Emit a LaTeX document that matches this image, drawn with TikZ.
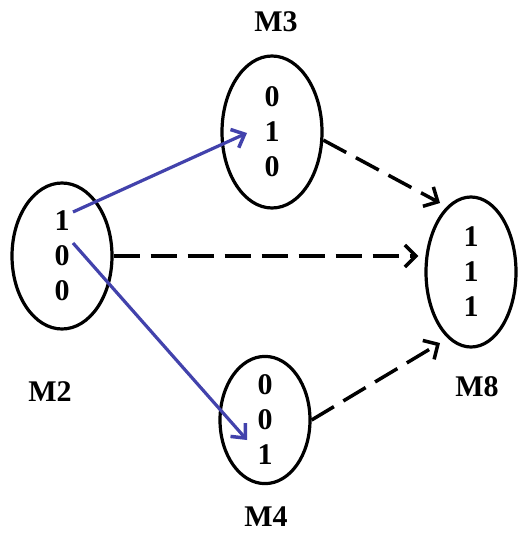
\documentclass[tikz,border=0pt]{standalone}
\usepackage{fontspec}
\setmainfont{Liberation Serif}
\usetikzlibrary{arrows.meta,shapes.geometric,calc}
\definecolor{arrowblue}{RGB}{66,66,172}
\begin{document}
\begin{tikzpicture}[x=1bp,y=-1bp,
  state/.style={draw=black,line width=3.2bp,ellipse,inner sep=0pt,align=center,
    font=\fontsize{30bp}{35bp}\selectfont\bfseries},
  lbl/.style={font=\fontsize{30bp}{35bp}\selectfont\bfseries,inner sep=0pt},
  bluearrow/.style={draw=arrowblue,line width=3.2bp,-{Straight Barb[length=11bp,width=20bp,line width=3.5bp]}},
  dasharrow/.style={draw=black,line width=3.5bp,dash pattern=on 26bp off 11bp,
    -{Straight Barb[length=11bp,width=22bp,line width=3.5bp]}}]
\useasboundingbox (0,0) rectangle (518,535);
\fill[white] (0,0) rectangle (518,535);
% states
\node[state,minimum width=100bp,minimum height=146bp] (M2) at (62,256) {1\\0\\0};
\node[state,minimum width=100bp,minimum height=152bp] (M3) at (272,132) {0\\1\\0};
\node[state,minimum width=90bp,minimum height=150bp] (M8) at (471,272) {1\\1\\1};
\node[state,minimum width=90bp,minimum height=126bp] (M4) at (265,420) {0\\0\\1};
% labels
\node[lbl] (L2) at (50,392) {M2};
\node[lbl] (L3) at (276,22) {M3};
\node[lbl] (L8) at (477,387) {M8};
\node[lbl] (L4) at (266,517) {M4};
% connector end points
\coordinate (b1s) at ($(M2.center)+(11,-44)$);
\coordinate (b1e) at ($(M3.center)+(-25,1)$);
\coordinate (b2s) at ($(M2.center)+(11,-13)$);
\coordinate (b2e) at ($(M4.center)+(-18,20)$);
\coordinate (d1e) at (440,203);
\coordinate (d3e) at (440,343);
% connectors
\draw[bluearrow] (b1s) -- (b1e);
\draw[bluearrow] (b2s) -- (b2e);
\draw[dasharrow] (M3.-9) -- (d1e);
\draw[dasharrow,shorten >=6bp] (M2.east) -- (M2.east -| M8.west);
\draw[dasharrow] (M4.east) -- (d3e);
\end{tikzpicture}
\end{document}
